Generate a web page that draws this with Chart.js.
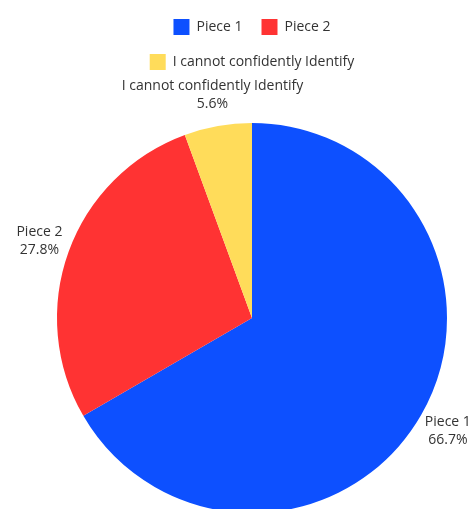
<!DOCTYPE html>
<html>
<head>
<meta charset="utf-8">
<script src="https://cdn.jsdelivr.net/npm/chart.js@4/dist/chart.umd.min.js"></script>
<style>
  html, body { margin: 0; padding: 0; background: #fff; overflow: hidden; }
  #wrap { width: 473px; height: 556px; }
</style>
</head>
<body>
<div id="wrap"><canvas id="pieChart"></canvas></div>
<script>
const labels = ['Piece 1', 'Piece 2', 'I cannot confidently Identify'];
const shares = [66.7, 27.8, 5.6];
const colors = ['#0d50ff', '#ff3333', '#ffdc5a'];

// draws "label / value%" just outside each slice
const outsideLabels = {
  id: 'outsideLabels',
  afterDatasetsDraw(chart) {
    const ctx = chart.ctx;
    const meta = chart.getDatasetMeta(0);
    ctx.save();
    ctx.font = '14px "Open Sans", sans-serif';
    ctx.fillStyle = '#333333';
    ctx.textAlign = 'center';
    ctx.textBaseline = 'middle';
    meta.data.forEach((arc, i) => {
      const mid = (arc.startAngle + arc.endAngle) / 2;
      const r = arc.outerRadius + 31;
      const x = arc.x + Math.cos(mid) * r;
      const y = arc.y + Math.sin(mid) * r;
      ctx.fillText(chart.data.labels[i], x, y - 9);
      ctx.fillText(shares[i].toFixed(1) + '%', x, y + 9);
    });
    ctx.restore();
  }
};

const ctx = document.getElementById('pieChart').getContext('2d');
new Chart(ctx, {
  type: 'pie',
  data: {
    labels: labels,
    datasets: [{
      data: shares,
      backgroundColor: colors,
      borderWidth: 0
    }]
  },
  options: {
    responsive: true,
    maintainAspectRatio: false,
    animation: false,
    radius: 195,
    layout: { padding: { left: 48, right: 17, top: 0, bottom: 0 } },
    plugins: {
      legend: {
        position: 'top',
        labels: {
          boxWidth: 16,
          boxHeight: 16,
          padding: 19,
          color: '#333333',
          font: { family: '"Open Sans", sans-serif', size: 14 }
        }
      },
      tooltip: { enabled: false }
    }
  },
  plugins: [outsideLabels]
});
</script>
</body>
</html>
